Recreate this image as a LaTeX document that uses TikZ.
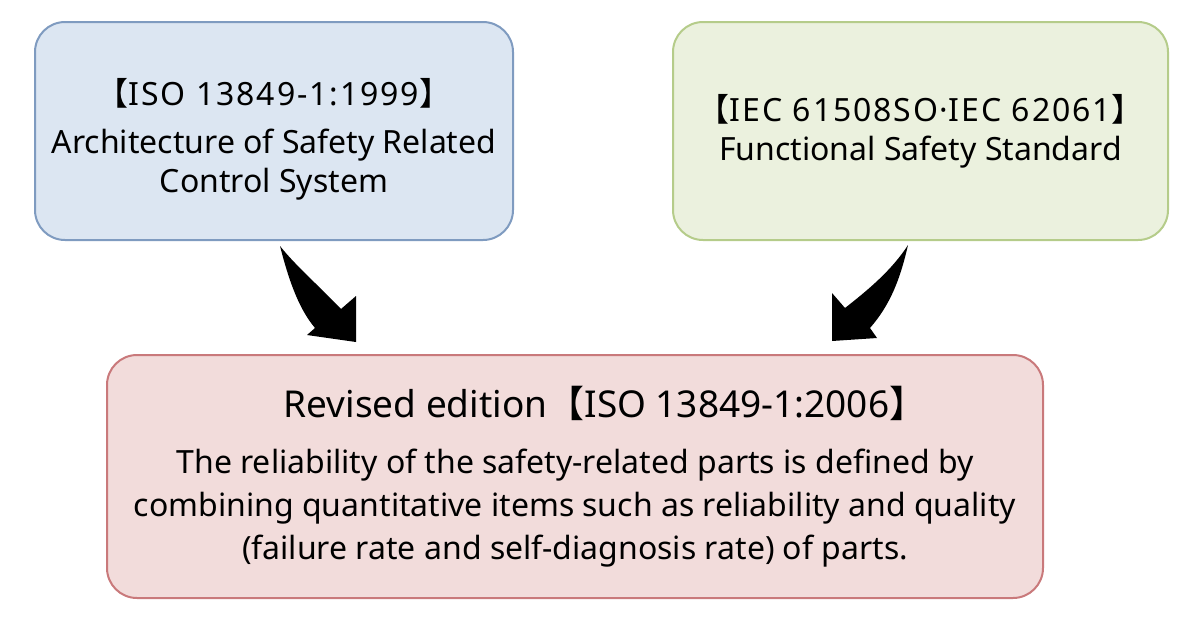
\documentclass[tikz,border=0pt]{standalone}
\usepackage{fontspec}
\setmainfont{Noto Sans}
\newfontfamily\cjk{Noto Sans CJK JP}
\newcommand{\lbr}{{\cjk 【}}
\newcommand{\rbr}{{\cjk 】}}
\newcommand{\mdot}{\kern1pt·\kern1pt}
\newcommand{\wide}{\addfontfeatures{LetterSpace=6}}
\definecolor{bluefill}{HTML}{DCE6F2}
\definecolor{blueline}{HTML}{7F9BC0}
\definecolor{greenfill}{HTML}{EBF1DE}
\definecolor{greenline}{HTML}{B5CC8A}
\definecolor{redfill}{HTML}{F2DCDB}
\definecolor{redline}{HTML}{C9797B}
\tikzset{
  stdbox/.style={draw, line width=2pt, rounded corners=30pt, inner sep=0pt},
  boxtext/.style={align=center, inner sep=0pt},
  bigarrow/.style={fill=black, draw=none}
}
\begin{document}
\begin{tikzpicture}[x=1pt, y=-1pt, font=\fontsize{32}{39}\selectfont]
    \useasboundingbox (0,0) rectangle (1200,622);
    % upper boxes
    \node[stdbox, draw=blueline, fill=bluefill, minimum width=478pt, minimum height=218pt] (iso) at (274,131) {};
    \node[boxtext] (isotext) at ([yshift=-8pt]iso.center)
        {{\wide\lbr ISO 13849-1:1999\rbr}\\[9pt] Architecture of Safety Related\\ Control System};
    \node[stdbox, draw=greenline, fill=greenfill, minimum width=495pt, minimum height=218pt] (iec) at (920.5,131) {};
    \node[boxtext] (iectext) at (iec.center)
        {{\wide\lbr IEC 61508SO\mdot IEC 62061\rbr}\\ Functional Safety Standard};
    % lower box
    \node[stdbox, draw=redline, fill=redfill, minimum width=936pt, minimum height=243pt] (rev) at (575,476.5) {};
    \node[boxtext, font=\fontsize{32}{43}\selectfont] (revtext) at (rev.center)
        {{\fontsize{37}{43}\selectfont\hspace*{60pt}Revised edition\lbr ISO 13849-1:2006\rbr}\\[13pt]
         The reliability of the safety-related parts is defined by\\
         combining quantitative items such as reliability and quality\\
         (failure rate and self-diagnosis rate) of parts.};
    % arrows
    \fill[bigarrow] (280,246) .. controls (290,285) and (300,310) .. (315,328)
        -- (307,335) -- (356,342) -- (356,296) -- (341,309)
        .. controls (318,285) and (295,265) .. cycle;
    \fill[bigarrow] (908,245) .. controls (900,280) and (890,305) .. (870,328)
        -- (877,338) -- (832,341) -- (832,293) -- (845,308)
        .. controls (868,290) and (892,270) .. cycle;
\end{tikzpicture}
\end{document}
